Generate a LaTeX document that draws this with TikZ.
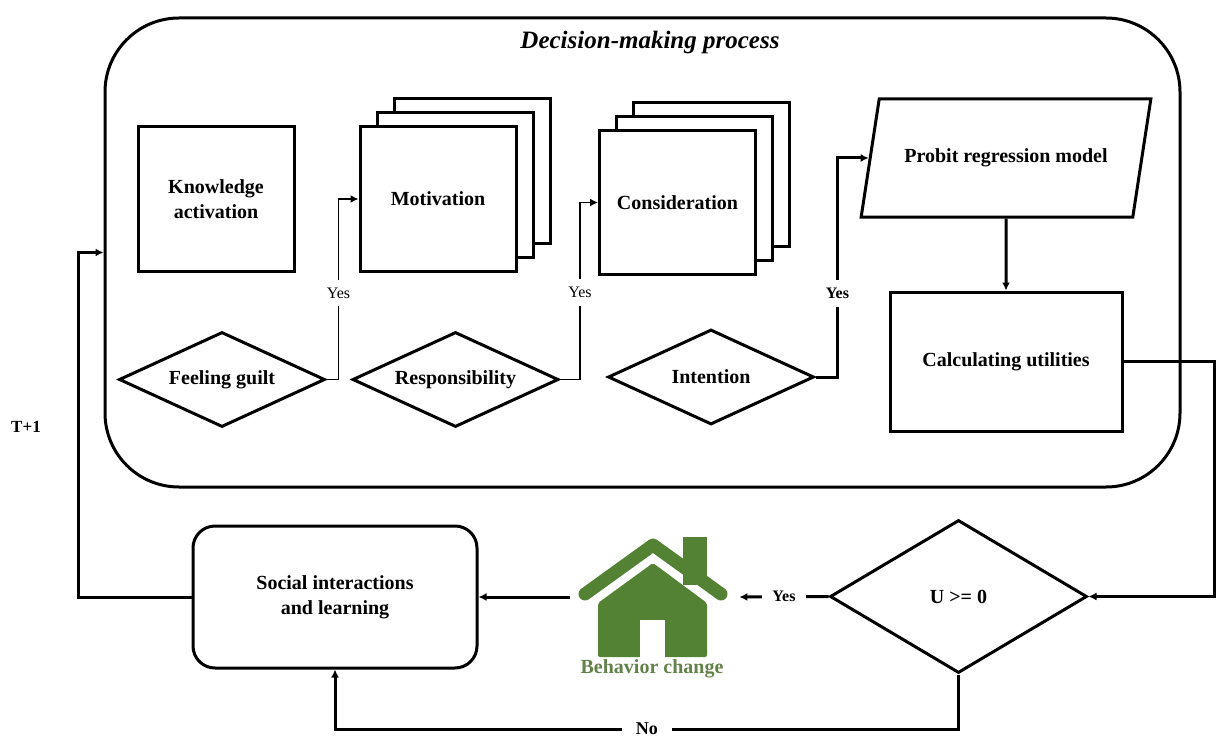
\documentclass[tikz,border=0pt]{standalone}
\usepackage{fontspec}
\setmainfont{Liberation Serif}
\usepackage{xcolor}
\usetikzlibrary{shapes.geometric,shadows,arrows.meta,calc}
\definecolor{housegreen}{HTML}{548235}
\definecolor{labelgreen}{HTML}{62824A}
\begin{document}
\begin{tikzpicture}[x=0.5pt,y=-0.5pt,
	lbl/.style={font=\bfseries\fontsize{10}{12.5}\selectfont,align=center},
	box/.style={lbl,draw,fill=white,line width=1.5pt,minimum width=78pt,minimum height=72pt},
	stack/.style={box,copy shadow={shadow xshift=17pt,shadow yshift=14pt},copy shadow={shadow xshift=8.5pt,shadow yshift=7pt}},
	dec/.style={lbl,draw,fill=white,diamond,aspect=2.17,line width=1.5pt,inner sep=0pt,minimum width=103pt,minimum height=47.5pt},
	para/.style={lbl,draw,trapezium,trapezium left angle=64,trapezium right angle=116,trapezium stretches=true,line width=1.5pt,minimum width=145pt,minimum height=59pt},
	tip/.style={-{Latex[length=4pt,width=4pt]}},
	link/.style={tip,line width=0.75pt},
	flow/.style={tip,line width=1.5pt},
	yes/.style={fill=white,font=\fontsize{8}{9}\selectfont,inner xsep=1pt,inner ysep=4pt},
	yesb/.style={fill=white,font=\bfseries\fontsize{8}{9}\selectfont,inner xsep=5pt,inner ysep=4pt}]
	\useasboundingbox (0,0) rectangle (1216,738);
		\node (dm) [draw,line width=1.5pt,rounded corners=37pt,minimum width=537.5pt,minimum height=234.5pt] at (642.5,252.5) {};
		\node (title) [font=\bfseries\itshape\fontsize{12.5}{15}\selectfont] at (650,42) {Decision-making process};
		\node (know) [box] at (216,199) {Knowledge\\activation};
		\node (motiv) [stack] at (438,199) {Motivation};
		\node (consid) [stack] at (677.5,202.5) {Consideration};
		\node (guilt) [dec] at (222,379.5) {Feeling guilt};
		\node (resp) [dec] at (455.5,379.5) {Responsibility};
		\node (intent) [dec] at (711,377) {Intention};
		\node (probit) [para] at (1006,158) {Probit regression model};
		\node (calc) [box,minimum width=116pt,minimum height=69.5pt] at (1006,361.5) {Calculating utilities};
		\node (u) [dec,aspect=1.68,minimum width=128.5pt,minimum height=76.5pt] at (958.5,596.5) {U >= 0};
		\node (social) [box,rounded corners=11pt,minimum width=142pt,minimum height=71pt] at (335,597) {Social interactions\\and learning};
		\node (tplus) [font=\bfseries\fontsize{8.5}{10}\selectfont] at (26,427) {T+1};
		\fill[housegreen] (683,537) rectangle (707,585);
		\draw[housegreen,line width=6.5pt,line cap=round,line join=round] (585,594) -- (653,545) -- (721,594);
		\fill[housegreen,rounded corners=1pt] (598,657) -- (598,603) -- (653,563) -- (707,603) -- (707,657) -- cycle;
		\fill[white] (640,620) rectangle (665,658);
		\node (house) [inner sep=0pt,minimum width=84.5pt,minimum height=60pt] at (654.5,597) {};
		\node (change) [lbl,text=labelgreen] at (652,669) {Behavior change};
		\coordinate (rt) at (1214,480);
		\coordinate (lp) at (78,420);
		\coordinate (nb) at (646,729);
		\draw[link] (guilt.east) -- ++(12,0) |- node[yes,pos=0.24] {Yes} (motiv.west);
		\draw[link] (resp.east) -- ++(20,0) |- node[yes,pos=0.245] {Yes} (consid.west);
		\draw[flow] (intent.east) -- ++(22,0) |- node[yesb,pos=0.19] {Yes} (probit.west);
		\draw[flow] (probit.south) -- (calc.north);
		\draw[flow] (calc.east) -| (rt) |- (u.east);
		\draw[flow] (u.west) -- node[yesb] {Yes} (house.east);
		\draw[flow] (house.west) -- (social.east);
		\draw[flow] (social.west) -| (lp) |- (dm.west);
		\draw[flow] (u.south) -- (u.south |- nb) -- node[yesb,font=\bfseries\fontsize{9}{10}\selectfont,inner xsep=7pt,inner ysep=1pt] {No} (social.south |- nb) -- (social.south);
	\end{tikzpicture}
\end{document}
